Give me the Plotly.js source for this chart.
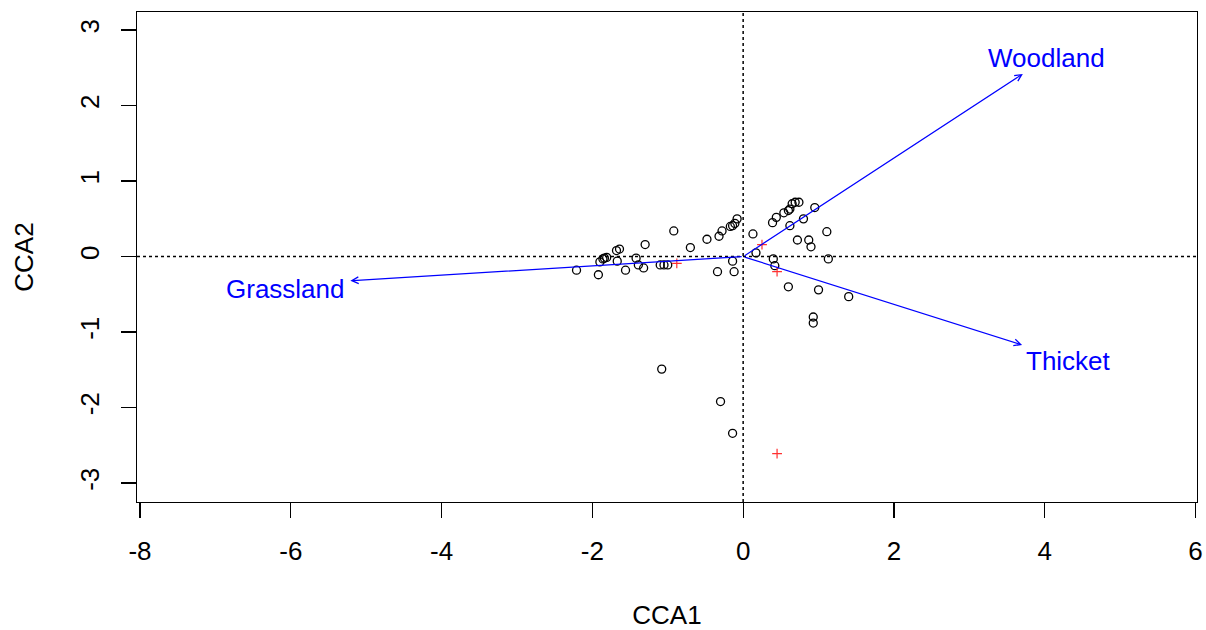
<!DOCTYPE html>
<html>
<head>
<meta charset="utf-8">
<script src="https://cdn.plot.ly/plotly-3.0.1.min.js"></script>
<style>html,body{margin:0;padding:0;background:#fff;}#chart{width:1206px;height:630px;}</style>
</head>
<body>
<div id="chart"></div>
<script>
// Site scores (black open circles)
const siteCCA1 = [-1.08, -0.30, -0.14,
  -2.21, -1.92, -1.90, -1.86, -1.84, -1.81, -1.68, -1.64, -1.67, -1.56, -1.30, -1.42, -1.39, -1.32,
  -0.92, -0.70, -0.48, -0.32, -0.28, -0.17, -0.14, -0.11, -0.08,
  -1.10, -1.05, -1.00, -0.14, -0.34, -0.12,
  0.13, 0.17, 0.39, 0.44, 0.54, 0.60, 0.62, 0.65, 0.69, 0.74, 0.62, 0.80, 0.95, 0.72, 0.87, 0.90, 1.11,
  0.40, 1.13, 0.42, 0.60, 1.00, 1.40, 0.93, 0.93];
const siteCCA2 = [-1.49, -1.92, -2.34,
  -0.18, -0.24, -0.07, -0.03, -0.02, -0.01, 0.08, 0.10, -0.06, -0.18, 0.16, -0.02, -0.11, -0.15,
  0.34, 0.12, 0.23, 0.27, 0.34, 0.40, 0.41, 0.44, 0.50,
  -0.11, -0.11, -0.11, -0.06, -0.20, -0.20,
  0.30, 0.05, 0.45, 0.52, 0.58, 0.61, 0.63, 0.70, 0.72, 0.72, 0.41, 0.50, 0.65, 0.22, 0.22, 0.13, 0.33,
  -0.03, -0.03, -0.12, -0.40, -0.44, -0.53, -0.80, -0.88];

// Species scores (red crosses)
const speciesCCA1 = [-0.88, 0.25, 0.45, 0.45];
const speciesCCA2 = [-0.09, 0.16, -0.20, -2.61];

// Biplot arrows (environmental variables)
const envNames = ["Woodland", "Thicket", "Grassland"];
const envCCA1 = [3.71, 3.70, -5.21];
const envCCA2 = [2.42, -1.17, -0.32];
const envLabelCCA1 = [4.03, 4.31, -6.07];
const envLabelCCA2 = [2.63, -1.38, -0.43];

// Axis ticks
const xTicks = [-8, -6, -4, -2, 0, 2, 4, 6];
const yTicks = [-3, -2, -1, 0, 1, 2, 3];

const FONT = "Liberation Sans, Arial, sans-serif";
const FS = 26;

const traces = [
  {
    x: siteCCA1, y: siteCCA2, type: "scatter", mode: "markers",
    marker: {symbol: "circle-open", size: 8, color: "black", line: {width: 1.3, color: "black"}},
    hoverinfo: "x+y", showlegend: false
  },
  {
    x: speciesCCA1, y: speciesCCA2, type: "scatter", mode: "markers",
    marker: {symbol: "cross-thin-open", size: 7, color: "#ff3030", line: {width: 1.2, color: "#ff3030"}},
    hoverinfo: "x+y", showlegend: false
  }
];

const annotations = [];
envNames.forEach((n, i) => {
  annotations.push({
    x: envCCA1[i], y: envCCA2[i], xref: "x", yref: "y",
    ax: 0, ay: 0, axref: "x", ayref: "y",
    text: "", showarrow: true, arrowhead: 5, arrowsize: 1.1, arrowwidth: 1.2,
    arrowcolor: "#0000ff", standoff: 0, startstandoff: 0
  });
  annotations.push({
    x: envLabelCCA1[i], y: envLabelCCA2[i], xref: "x", yref: "y",
    text: n, showarrow: false, xanchor: "center", yanchor: "middle",
    font: {family: FONT, size: FS, color: "#0000ff"}
  });
});

const layout = {
  width: 1206, height: 630,
  margin: {l: 137, r: 9, t: 12, b: 128},
  paper_bgcolor: "white", plot_bgcolor: "white",
  font: {family: FONT, size: FS, color: "black"},
  showlegend: false,
  xaxis: {
    range: [-8.04, 6.02], tickmode: "array", tickvals: xTicks, ticktext: xTicks.map(String),
    showgrid: false, zeroline: false, showline: true, mirror: true, linecolor: "black", linewidth: 1.3,
    ticks: "outside", ticklen: 15, tickwidth: 1.3, tickcolor: "black", ticklabelstandoff: 10,
    tickfont: {family: FONT, size: FS, color: "black"},
    title: {text: "CCA1", font: {family: FONT, size: FS, color: "black"}, standoff: 44}
  },
  yaxis: {
    range: [-3.25, 3.24], tickmode: "array", tickvals: yTicks, ticktext: yTicks.map(String),
    showgrid: false, zeroline: false, showline: true, mirror: true, linecolor: "black", linewidth: 1.3,
    ticks: "outside", ticklen: 15, tickwidth: 1.3, tickcolor: "black", tickangle: -90, ticklabelstandoff: 11,
    tickfont: {family: FONT, size: FS, color: "black"},
    title: {text: "CCA2", font: {family: FONT, size: FS, color: "black"}, standoff: 34}
  },
  shapes: [
    {type: "line", xref: "paper", x0: 0, x1: 1, yref: "y", y0: 0, y1: 0, line: {color: "black", width: 1.5, dash: "dot"}, layer: "below"},
    {type: "line", yref: "paper", y0: 0, y1: 1, xref: "x", x0: 0, x1: 0, line: {color: "black", width: 1.5, dash: "dot"}, layer: "below"}
  ],
  annotations: annotations
};

Plotly.newPlot("chart", traces, layout, {displayModeBar: false, staticPlot: true});
</script>
</body>
</html>
